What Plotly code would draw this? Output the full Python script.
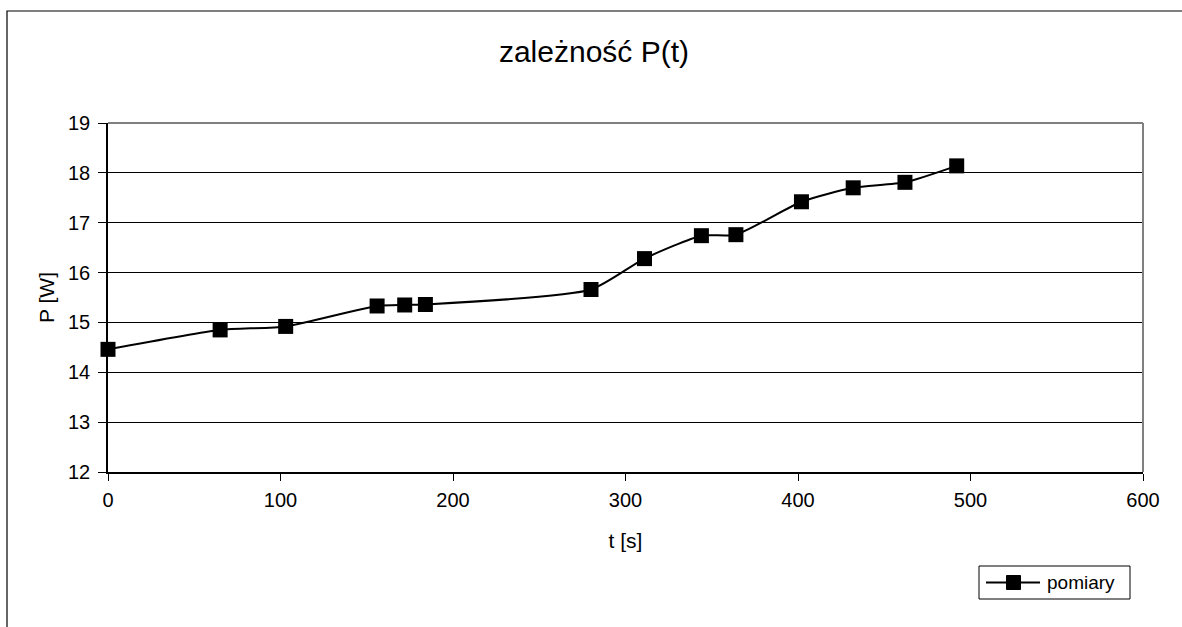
import plotly.graph_objects as go

t_s = [0, 65, 103, 156, 172, 184, 280, 311, 344, 364, 402, 432, 462, 492]
p_w = [14.46, 14.85, 14.92, 15.33, 15.35, 15.36, 15.66, 16.28, 16.74, 16.76, 17.42, 17.70, 17.81, 18.14]
series_name = "pomiary"

x_ticks = [0, 100, 200, 300, 400, 500, 600]
y_ticks = [12, 13, 14, 15, 16, 17, 18, 19]

W, H = 1182, 627
L, R, T, B = 108, 1143, 123, 472
pw, ph = R - L, B - T

def px(x):
    return (x - L) / pw

def py(y):
    return (B - y) / ph

fig = go.Figure()
fig.add_trace(go.Scatter(
    x=t_s, y=p_w, mode="lines+markers", name=series_name,
    line=dict(color="black", width=2, shape="spline", smoothing=0.6),
    marker=dict(symbol="square", size=15, color="black"),
    cliponaxis=False, showlegend=False,
))

fig.update_layout(
    width=W, height=H,
    margin=dict(l=L, r=W - R, t=T, b=H - B),
    paper_bgcolor="white", plot_bgcolor="white",
    font=dict(family="Liberation Sans, Arial", color="black", size=20),
    title=dict(text="zależność P(t)", x=0.5025, xanchor="center", y=1 - 51 / H, yanchor="middle",
               font=dict(size=30)),
    showlegend=False,
    xaxis=dict(range=[0, 600], tickvals=x_ticks, showgrid=False, zeroline=False,
               showline=True, linecolor="black", linewidth=1.5,
               ticks="outside", ticklen=7, tickcolor="black", ticklabelstandoff=2,
               title=dict(text="t [s]", standoff=24, font=dict(size=21)),
               tickfont=dict(size=20)),
    yaxis=dict(range=[12, 19], tickvals=y_ticks, showgrid=True, gridcolor="black", gridwidth=1,
               zeroline=False, showline=True, linecolor="black", linewidth=1.5,
               ticks="outside", ticklen=8, tickcolor="black", ticklabelstandoff=4,
               title=dict(text="P [W]", standoff=8, font=dict(size=21)),
               tickfont=dict(size=20)),
)

# plot area gray top/right border
fig.add_shape(type="line", xref="paper", yref="paper", x0=0, x1=1, y0=1, y1=1,
              line=dict(color="#808080", width=2))
fig.add_shape(type="line", xref="paper", yref="paper", x0=1, x1=1, y0=0, y1=1,
              line=dict(color="#808080", width=2))
# outer chart border (extends past the visible page)
fig.add_shape(type="rect", xref="paper", yref="paper",
              x0=px(7), x1=px(1300), y0=py(11), y1=py(700),
              line=dict(color="black", width=1.2), layer="below")

# legend box drawn manually
lg_x0, lg_x1, lg_y0, lg_y1 = 979, 1130, 566, 599
lg_cy = (lg_y0 + lg_y1) / 2
fig.add_shape(type="rect", xref="paper", yref="paper",
              x0=px(lg_x0), x1=px(lg_x1), y0=py(lg_y1), y1=py(lg_y0),
              line=dict(color="black", width=1), fillcolor="white")
fig.add_shape(type="line", xref="paper", yref="paper",
              x0=px(986), x1=px(1040), y0=py(lg_cy), y1=py(lg_cy),
              line=dict(color="black", width=2))
fig.add_shape(type="rect", xref="paper", yref="paper",
              x0=px(1006.5), x1=px(1020.5), y0=py(lg_cy + 7), y1=py(lg_cy - 7),
              line=dict(color="black", width=1), fillcolor="black")
fig.add_annotation(xref="paper", yref="paper", x=px(1045), y=py(lg_cy),
                   xanchor="left", yanchor="middle", showarrow=False,
                   text=series_name, font=dict(size=19))

fig.write_html("out.html")
